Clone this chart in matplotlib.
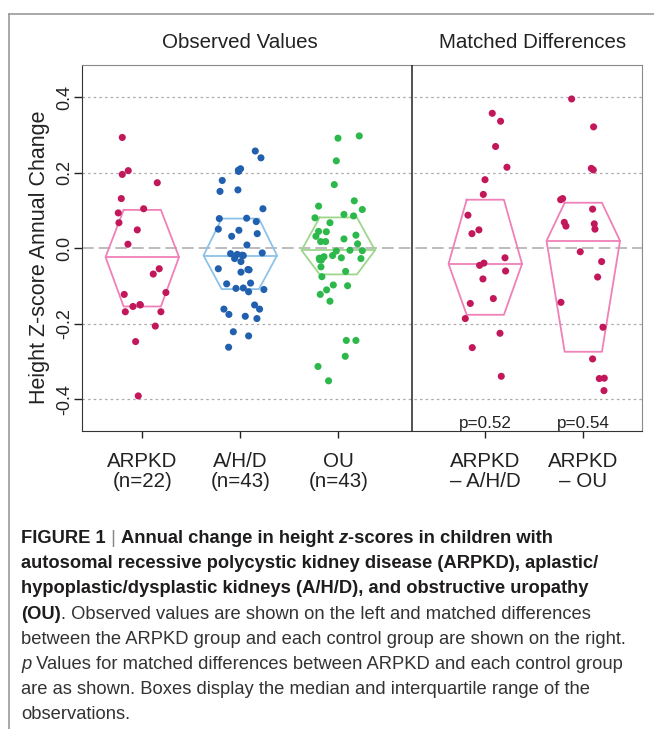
import numpy as np
import matplotlib.pyplot as plt
from matplotlib.lines import Line2D

# ---- data ----
groups = ["ARPKD\n(n=22)", "A/H/D\n(n=43)", "OU\n(n=43)", "ARPKD\n\u2013 A/H/D", "ARPKD\n\u2013 OU"]
positions = [1, 2, 3, 4.5, 5.5]

arpkd_vals = [0.294, 0.206, 0.196, 0.174, 0.132, 0.105, 0.094, 0.068, 0.049, 0.011, -0.054,
              -0.068, -0.117, -0.122, -0.149, -0.154, -0.168, -0.168, -0.206, -0.247, -0.391, -0.150]
arpkd_jit = [-0.204, -0.143, -0.204, 0.153, -0.214, 0.014, -0.245, -0.238, -0.051, -0.146, 0.173,
             0.112, 0.241, -0.184, -0.024, -0.095, -0.173, 0.190, 0.133, -0.068, -0.041, -0.020]

ahd_vals = [0.258, 0.240, 0.211, 0.204, 0.180, 0.151, 0.155, 0.105, 0.079, 0.080, 0.071, 0.051,
            0.048, 0.039, 0.032, 0.009, -0.014, -0.016, -0.019, -0.027, -0.035, -0.012, -0.054,
            -0.056, -0.063, -0.094, -0.092, -0.106, -0.105, -0.115, -0.109, -0.150, -0.161, -0.161,
            -0.175, -0.180, -0.186, -0.221, -0.232, -0.262, -0.018, 0.207, -0.057]
ahd_jit = [0.153, 0.211, 0.003, -0.017, -0.184, -0.207, -0.024, 0.231, -0.214, 0.065, 0.163, -0.224,
           -0.014, 0.173, -0.088, 0.068, -0.099, -0.031, 0.031, -0.058, 0.007, 0.224, -0.224,
           0.078, 0.007, -0.139, 0.105, -0.044, 0.031, 0.085, 0.241, 0.146, 0.197, -0.167,
           -0.116, 0.051, 0.170, -0.071, 0.085, -0.119, 0.020, -0.020, 0.090]

ou_vals = [0.292, 0.298, 0.232, 0.169, 0.126, 0.112, 0.103, 0.081, 0.090, 0.086, 0.068, 0.045,
           0.044, 0.032, 0.035, 0.018, 0.018, 0.025, 0.012, -0.007, -0.005, -0.006, -0.026, -0.022,
           -0.019, -0.025, -0.027, -0.031, -0.049, -0.061, -0.075, -0.097, -0.110, -0.099, -0.122,
           -0.140, -0.244, -0.244, -0.286, -0.313, -0.351, -0.025, -0.030]
ou_jit = [-0.003, 0.214, -0.020, -0.041, 0.163, -0.201, 0.245, -0.238, 0.058, 0.156, -0.085, -0.201,
          -0.122, -0.228, 0.180, -0.180, -0.129, 0.058, 0.197, -0.020, 0.119, 0.245, -0.194, -0.146,
          -0.058, 0.031, 0.231, -0.173, -0.177, 0.075, -0.167, -0.051, -0.119, 0.095, -0.184,
          -0.085, 0.082, 0.180, 0.071, -0.207, -0.099, -0.160, -0.190]

diff_ahd_vals = [0.358, 0.337, 0.270, 0.215, 0.182, 0.143, 0.088, 0.049, 0.039, -0.025, -0.039,
                 -0.045, -0.060, -0.081, -0.133, -0.146, -0.186, -0.225, -0.263, -0.339]
diff_ahd_jit = [0.071, 0.156, 0.105, 0.221, -0.003, -0.020, -0.177, -0.065, -0.136, 0.201, -0.014,
                -0.058, 0.207, -0.024, 0.082, -0.153, -0.204, 0.150, -0.133, 0.163]

diff_ou_vals = [0.396, 0.322, 0.212, 0.208, 0.129, 0.132, 0.104, 0.069, 0.059, 0.065, 0.051,
                -0.009, -0.035, -0.076, -0.143, -0.209, -0.293, -0.345, -0.344, -0.377]
diff_ou_jit = [-0.119, 0.105, 0.082, 0.102, -0.231, -0.211, 0.095, -0.194, -0.177, 0.112, 0.119,
               -0.031, 0.187, 0.146, -0.228, 0.201, 0.095, 0.163, 0.214, 0.211]

# quartiles and medians as drawn
q1 = [-0.154, -0.108, -0.069, -0.176, -0.274]
med = [-0.023, -0.019, -0.005, -0.041, 0.020]
q3 = [0.102, 0.079, 0.082, 0.129, 0.121]

p_values = ["p=0.52", "p=0.54"]

all_vals = [arpkd_vals, ahd_vals, ou_vals, diff_ahd_vals, diff_ou_vals]
all_jit = [arpkd_jit, ahd_jit, ou_jit, diff_ahd_jit, diff_ou_jit]

pt_colors = ["#C2185B", "#2160AE", "#2DB84B", "#C2185B", "#C2185B"]
box_colors = ["#F080B8", "#8CC3EB", "#9ED68C", "#F080B8", "#F080B8"]

plt.rcParams['font.family'] = ['Liberation Sans', 'DejaVu Sans']

W, H = 654, 729
fig = plt.figure(figsize=(W / 100, H / 100), dpi=100)
ax = fig.add_axes([82 / W, 1 - 431 / H, 560 / W, 366 / H])

for i in range(5):
    c = positions[i]
    bx = [c - 0.19, c + 0.19, c + 0.375, c + 0.19, c - 0.19, c - 0.375, c - 0.19]
    by = [q3[i], q3[i], med[i], q1[i], q1[i], med[i], q3[i]]
    ax.plot(bx, by, color=box_colors[i], lw=1.3, zorder=2)
    ax.plot([c - 0.375, c + 0.375], [med[i], med[i]], color=box_colors[i], lw=1.3, zorder=2)
    ax.scatter(c + np.array(all_jit[i]), all_vals[i], s=26, color=pt_colors[i],
               edgecolors='none', zorder=3)

for yv in [-0.4, -0.2, 0.2, 0.4]:
    ax.axhline(yv, color='#aaaaaa', lw=0.9, ls=(0, (2, 2.5)), zorder=1)
ax.axhline(0, color='#b0b0b0', lw=1.2, ls=(0, (7, 3)), zorder=1)
ax.axvline(3.752, color='#222222', lw=1.1, zorder=4)

for i, txt in enumerate(p_values):
    ax.text(positions[3 + i], -0.476, txt, ha='center', va='baseline', fontsize=12.3, color='#222222')

ax.set_xlim(0.385, 6.099)
ax.set_ylim(-0.484, 0.486)
ax.set_xticks(positions, groups)
ax.set_yticks([-0.4, -0.2, 0.0, 0.2, 0.4], ["-0.4", "-0.2", "0.0", "0.2", "0.4"])
ax.tick_params(axis='x', length=5, width=1, pad=10, labelsize=14.8, colors='#222222')
ax.tick_params(axis='y', length=5.5, width=1, pad=0.5, labelsize=13, colors='#222222', labelrotation=90)
for lab in ax.get_yticklabels():
    lab.set_va('center')
for lab in ax.get_xticklabels():
    lab.set_linespacing(1.08)
for s in ['top', 'right']:
    ax.spines[s].set_color('#8a8a8a')
for s in ['left', 'bottom']:
    ax.spines[s].set_color('#333333')
ax.set_ylabel("Height Z-score Annual Change", fontsize=15.5, color='#222222')
ax.yaxis.set_label_coords(-0.058, 0.475)

fig.text(240 / W, 1 - 43 / H, "Observed Values", ha='center', va='center', fontsize=14.8, color='#222222')
fig.text(533 / W, 1 - 43 / H, "Matched Differences", ha='center', va='center', fontsize=14.8, color='#222222')

# outer frame lines (top and left)
fig.add_artist(Line2D([9 / W, 1], [1 - 14 / H, 1 - 14 / H], color='#999999', lw=1.2))
fig.add_artist(Line2D([9 / W, 9 / W], [0, 1 - 14 / H], color='#999999', lw=1.2))

# caption
dark = '#1e1c1d'
grey = '#333333'
bold = dict(fontweight='bold', color=dark)
reg = dict(color=grey)

caption = [
    [("FIGURE 1", bold), (" | ", dict(color='#888888')), ("Annual change in height ", bold),
     ("z", dict(fontweight='bold', style='italic', color=dark)), ("-scores in children with", bold)],
    [("autosomal recessive polycystic kidney disease (ARPKD), aplastic/", bold)],
    [("hypoplastic/dysplastic kidneys (A/H/D), and obstructive uropathy", bold)],
    [("(OU)", bold), (". Observed values are shown on the left and matched differences", reg)],
    [("between the ARPKD group and each control group are shown on the right.", reg)],
    [("p", dict(style='italic', color=grey)), (" Values for matched differences between ARPKD and each control group", reg)],
    [("are as shown. Boxes display the median and interquartile range of the", reg)],
    [("observations.", reg)],
]
baselines = [543, 568, 593, 619, 644, 669, 694, 719]

renderer = fig.canvas.get_renderer()
for line, yb in zip(caption, baselines):
    x = 21
    for txt, kw in line:
        t = fig.text(x / W, 1 - yb / H, txt, ha='left', va='baseline', fontsize=13.2, **kw)
        bb = t.get_window_extent(renderer)
        x = bb.x1

fig.savefig("out.png", dpi=100)
